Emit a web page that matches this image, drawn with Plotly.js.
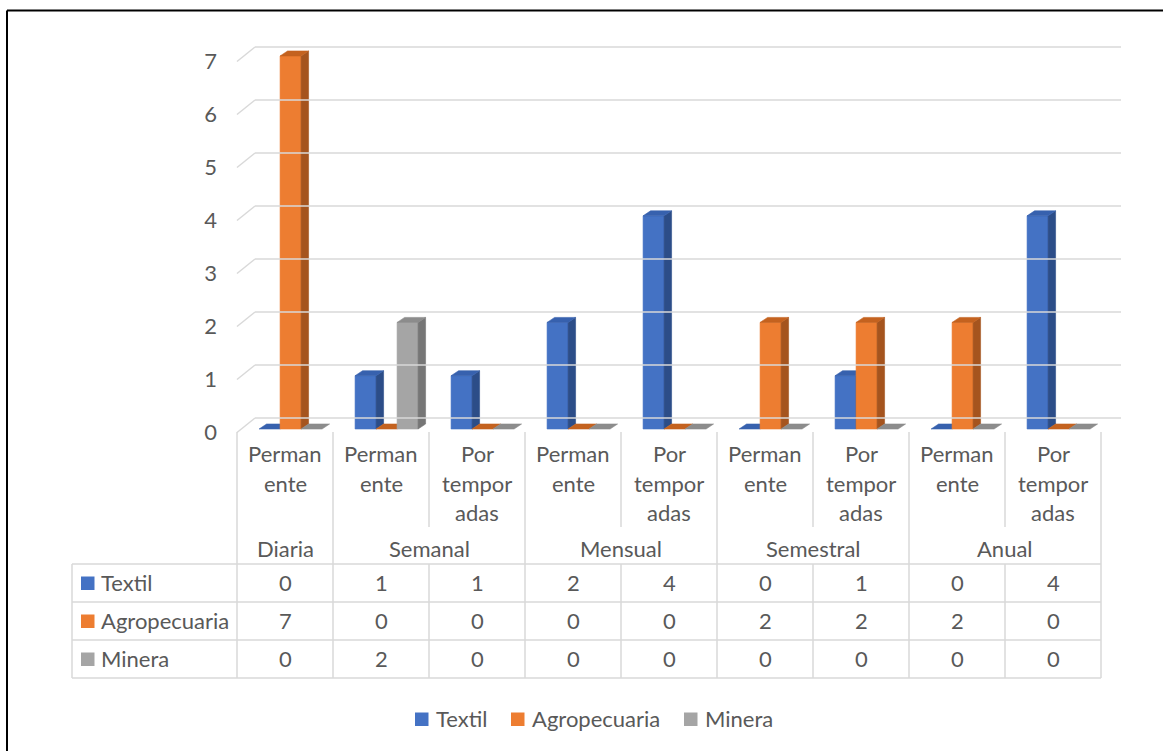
<!DOCTYPE html>
<html><head><meta charset="utf-8">
<script src="https://cdn.plot.ly/plotly-3.0.1.min.js"></script>
<style>html,body{margin:0;padding:0;background:#fff;} #chart{width:1163px;height:751px;}</style>
</head><body><div id="chart"></div>
<script>
// ---------- data ----------
const groups = ['Diaria', 'Semanal', 'Mensual', 'Semestral', 'Anual'];
const groupSpan = [1, 2, 2, 2, 2];
const subLabels = ['Perman<br>ente', 'Perman<br>ente', 'Por<br>tempor<br>adas', 'Perman<br>ente', 'Por<br>tempor<br>adas',
                   'Perman<br>ente', 'Por<br>tempor<br>adas', 'Perman<br>ente', 'Por<br>tempor<br>adas'];
const seriesNames = ['Textil', 'Agropecuaria', 'Minera'];
const textil       = [0, 1, 1, 2, 4, 0, 1, 0, 4];
const agropecuaria = [7, 0, 0, 0, 0, 2, 2, 2, 0];
const minera       = [0, 2, 0, 0, 0, 0, 0, 0, 0];
const yTicks = [0, 1, 2, 3, 4, 5, 6, 7];

// ---------- styling ----------
const seriesValues = [textil, agropecuaria, minera];
const frontCol = ['#4472C4', '#ED7D31', '#A5A5A5'];
const sideCol  = ['#2C4D88', '#A5541E', '#767676'];
const topCol   = ['#3761AE', '#C4621F', '#8C8C8C'];
const txtCol = '#595959', lineCol = '#D9D9D9';
const FONT = 'Lato, "Open Sans", sans-serif', FS = 22;

const W = 1163, H = 751, L = 237, R = 1121, T = 40, B = 434;
const pxX = 96, pxY = 53.29;
const xp = p => (p - L) / (R - L);
const yp = p => (B - p) / (B - T);
const n = textil.length;

const barW = 21 / pxX, startOff = -0.27, dX = 7.5 / pxX, dY = 5 / pxY;

// ---------- 3D-looking columns (painter's order) ----------
const traces = [];
seriesValues.forEach((vals, k) => {
  const fx = [], fy = [], sx = [], sy = [], tx = [], ty = [];
  vals.forEach((v, i) => {
    const x0 = i + startOff + k * barW, x1 = x0 + barW;
    if (v > 0) {
      fx.push(x0, x1, x1, x0, x0, null); fy.push(0, 0, v, v, 0, null);
      sx.push(x1, x1 + dX, x1 + dX, x1, x1, null); sy.push(0, dY, v + dY, v, 0, null);
    }
    tx.push(x0, x1, x1 + dX, x0 + dX, x0, null); ty.push(v, v, v + dY, v + dY, v, null);
  });
  const base = {type: 'scatter', mode: 'lines', fill: 'toself', hoverinfo: 'skip', showlegend: false, connectgaps: false};
  traces.push(Object.assign({}, base, {x: fx, y: fy, fillcolor: frontCol[k], line: {width: 0.6, color: frontCol[k]}, name: seriesNames[k]}));
  traces.push(Object.assign({}, base, {x: sx, y: sy, fillcolor: sideCol[k], line: {width: 0.6, color: sideCol[k]}}));
  traces.push(Object.assign({}, base, {x: tx, y: ty, fillcolor: topCol[k], line: {width: 0.6, color: topCol[k]}}));
});
// carrier for the label axis
traces.push({type: 'scatter', x: [], y: [], yaxis: 'y2', showlegend: false, hoverinfo: 'skip'});

// ---------- shapes ----------
const shapes = [];
const ln = (x0, y0, x1, y1, color, width) => shapes.push({type: 'line', xref: 'paper', yref: 'paper',
  x0: xp(x0), y0: yp(y0), x1: xp(x1), y1: yp(y1), line: {color: color || lineCol, width: width || 1.5}});

// back wall gridlines + side wall diagonals
yTicks.forEach(v => {
  const back = 418 - 53 * v, front = 432.5 - 53 * v;
  ln(255, back, R, back);
  ln(L, front, 255, back);
});

// category label area and table
const colX = i => L + pxX * i;          // left edge of column i
ln(L, 432, L, 678);
let c = 0;
groupSpan.forEach(s => {
  for (let j = 1; j < s; j++) { ln(colX(c + j), 432, colX(c + j), 527); ln(colX(c + j), 564, colX(c + j), 678); }
  c += s;
  ln(colX(c), 432, colX(c), 678);
});
ln(72, 564, 72, 678);
[564, 602, 640, 678].forEach(y => ln(72, y, colX(n), y));

// frame
ln(7, 10.5, W, 10.5, '#000', 2);
ln(7, 10.5, 7, H, '#000', 2);

// ---------- annotations ----------
const annotations = [];
const txt = (x, xref, y, text, anchor) => annotations.push({x: x, xref: xref, y: yp(y), yref: 'paper', text: text,
  showarrow: false, xanchor: anchor || 'center', yanchor: 'middle', font: {family: FONT, size: FS, color: txtCol}});

subLabels.forEach((lab, i) => lab.split('<br>').forEach((part, j) => txt(i, 'x', 453.5 + 29.5 * j, part)));
c = 0;
groups.forEach((g, gi) => { txt(c + (groupSpan[gi] - 1) / 2, 'x', 548, g); c += groupSpan[gi]; });

const rowY = [582, 620, 658];
seriesNames.forEach((s, k) => {
  shapes.push({type: 'rect', xref: 'paper', yref: 'paper', x0: xp(81), x1: xp(94.5), y0: yp(576.5 + 38 * k), y1: yp(590 + 38 * k),
    fillcolor: frontCol[k], line: {width: 0}});
  txt(xp(99), 'paper', rowY[k], s, 'left');
  seriesValues[k].forEach((v, i) => txt(i, 'x', rowY[k], String(v)));
});

// legend
const legX = [415, 511, 684];
seriesNames.forEach((s, k) => {
  shapes.push({type: 'rect', xref: 'paper', yref: 'paper', x0: xp(legX[k]), x1: xp(legX[k] + 13.5), y0: yp(712.5), y1: yp(726),
    fillcolor: frontCol[k], line: {width: 0}});
  txt(xp(legX[k] + 19), 'paper', 718, s, 'left');
});

// ---------- layout ----------
const y0v = -(B - 429) / pxY;
const layout = {
  width: W, height: H, autosize: false,
  margin: {l: L, r: W - R, t: T, b: H - B, pad: 0},
  paper_bgcolor: '#fff', plot_bgcolor: 'rgba(0,0,0,0)',
  showlegend: false,
  font: {family: FONT, size: FS, color: txtCol},
  xaxis: {range: [-0.5, n - 0.5 + (R - colX(n)) / pxX], showgrid: false, zeroline: false, showline: false,
          showticklabels: false, ticks: '', fixedrange: true},
  yaxis: {range: [y0v, y0v + (B - T) / pxY], showgrid: false, zeroline: false, showline: false,
          showticklabels: false, ticks: '', fixedrange: true},
  yaxis2: {overlaying: 'y', side: 'left', range: [-(B - 432) / 53, -(B - 432) / 53 + (B - T) / 53],
           tickvals: yTicks, ticktext: yTicks.map(String), showgrid: false, zeroline: false, showline: false,
           ticks: '', ticklabelstandoff: 19, fixedrange: true,
           tickfont: {family: FONT, size: FS, color: txtCol}},
  shapes: shapes,
  annotations: annotations
};

Plotly.newPlot('chart', traces, layout, {staticPlot: true, displayModeBar: false});
</script>
</body></html>
